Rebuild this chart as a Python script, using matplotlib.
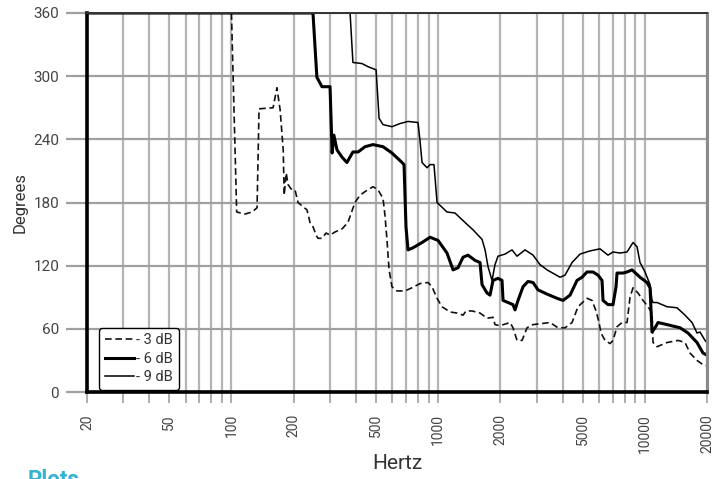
import matplotlib
matplotlib.use("Agg")
import matplotlib.pyplot as plt
from matplotlib.ticker import FixedLocator, NullFormatter

plt.rcParams['font.family'] = ['Roboto', 'DejaVu Sans']

# ---- data (Hz, degrees) ----
f_3db = [20, 100, 106, 116, 126, 133, 136, 159, 166, 172, 178, 180, 184, 188, 194, 203, 210, 222, 232,
         240, 248, 257, 262, 274, 287, 300, 317, 343, 366, 396, 419, 448, 484, 512, 541, 553, 566, 579,
         598, 632, 692, 747, 817, 894, 934, 988, 1044, 1142, 1234, 1320, 1365, 1459, 1595, 1725, 1843,
         1885, 1993, 2228, 2303, 2409, 2547, 2693, 2879, 3479, 3804, 4112, 4446, 4753, 5254, 5555, 5808,
         6005, 6140, 6421, 6789, 7019, 7340, 7760, 8206, 8484, 8772, 9275, 9806, 10368, 10840, 10963,
         11466, 12817, 14489, 15655, 16554, 17894, 19129, 20000]
d_3db = [360, 360, 171, 169, 171, 175, 269, 270, 289, 268, 230, 187, 208, 197, 193, 192, 180, 176, 173,
         161, 157, 149, 146, 146, 151, 149, 152, 155, 161, 180, 187, 191, 195, 192, 184, 168, 144, 116,
         100, 96, 96, 99, 103, 104, 100, 89, 81, 76, 75, 73, 77, 77, 75, 70, 71,
         64, 63, 66, 61, 49, 49, 61, 64, 66, 61, 61, 66, 81, 89, 87, 77,
         66, 56, 49, 46, 49, 62, 66, 66, 90, 99, 94, 87, 81, 75, 47,
         43, 47, 49, 47, 37, 30, 26, 25]

f_6db = [20, 248, 259, 274, 300, 307, 313, 324, 343, 362, 387, 410, 443, 484, 541, 598, 669, 684, 699,
         715, 756, 836, 914, 999, 1104, 1181, 1248, 1320, 1395, 1509, 1595, 1631, 1725, 1783, 1843, 1949,
         2038, 2061, 2179, 2303, 2356, 2436, 2576, 2723, 2879, 3043, 3365, 3762, 4022, 4348, 4699, 4969,
         5254, 5618, 5939, 6210, 6280, 6640, 7019, 7260, 7340, 7848, 8206, 8676, 9485, 10253, 10603,
         10840, 11209, 11590, 12817, 14815, 16190, 17894, 19129, 20000]
d_6db = [360, 360, 299, 290, 290, 227, 244, 230, 223, 218, 228, 228, 233, 235, 233, 227, 218, 216, 157,
         135, 137, 142, 147, 144, 132, 116, 118, 128, 130, 125, 123, 102, 94, 92, 106, 108,
         106, 87, 85, 83, 78, 87, 100, 105, 104, 97, 93, 89, 87, 92, 106, 109,
         114, 114, 111, 106, 87, 83, 83, 100, 113, 113, 114, 116, 109, 104, 99,
         57, 61, 66, 64, 61, 56, 47, 37, 35]

f_9db = [20, 375, 387, 428, 458, 501, 518, 541, 598, 654, 715, 799, 817, 836, 884, 914, 955, 988, 1104,
         1207, 1350, 1476, 1631, 1687, 1744, 1823, 1885, 1949, 2108, 2278, 2409, 2633, 2879, 3112, 3365,
         3890, 4112, 4446, 4861, 5433, 6072, 6640, 7019, 7590, 8206, 8772, 9174, 9485, 10027, 10603,
         10840, 10963, 11466, 12817, 14326, 15655, 16929, 17894, 18504, 19564, 20000]
d_9db = [360, 360, 313, 312, 309, 306, 260, 254, 252, 255, 257, 256, 239, 218, 213, 216, 216, 180, 171,
         170, 161, 154, 145, 135, 119, 106, 121, 129, 131, 135, 129, 135, 130, 121, 116,
         109, 111, 123, 131, 134, 136, 130, 133, 132, 133, 142, 138, 123, 114, 102,
         87, 85, 85, 81, 80, 73, 66, 56, 57, 49, 47]

series_labels = ['- 3 dB', '- 6 dB', '- 9 dB']
major_ticks = [20, 50, 100, 200, 500, 1000, 2000, 5000, 10000, 20000]
grid_freqs = [20, 30, 40, 50, 60, 70, 80, 90, 100, 200, 300, 400, 500, 600, 700, 800, 900, 1000,
              2000, 3000, 4000, 5000, 6000, 7000, 8000, 9000, 10000, 20000]
y_ticks = [0, 60, 120, 180, 240, 300, 360]

# ---- figure ----
fig = plt.figure(figsize=(7.14, 4.79), dpi=100)
ax = fig.add_axes([87/714, 1-392/479, 620/714, 379/479])

ax.set_xscale('log')
ax.set_xlim(20, 20000)
ax.set_ylim(0, 360)

grid_col = '#b4b4b4'
for g in grid_freqs:
    ax.axvline(g, color=grid_col, lw=1.6, zorder=1)
for y in y_ticks:
    ax.axhline(y, color='#a0a0a0', lw=1.6, zorder=1)

ax.plot(f_3db, d_3db, color='#111111', lw=1.2, ls=(0, (4, 2.2)), label=series_labels[0], zorder=3)
ax.plot(f_6db, d_6db, color='#000000', lw=2.2, label=series_labels[1], zorder=4)
ax.plot(f_9db, d_9db, color='#000000', lw=1.1, label=series_labels[2], zorder=3)

ax.xaxis.set_major_locator(FixedLocator(major_ticks))
ax.xaxis.set_minor_locator(FixedLocator(grid_freqs))
ax.xaxis.set_minor_formatter(NullFormatter())
ax.set_xticklabels([str(t) for t in major_ticks], rotation=90)
ax.set_yticks(y_ticks)

ax.tick_params(axis='x', which='both', length=8, width=1.2, color='#a0a0a0', labelcolor='#444444',
               labelsize=10, pad=8)
ax.tick_params(axis='y', length=15, width=1.6, color='#a0a0a0', labelcolor='#444444', labelsize=11, pad=5)

for s in ['left', 'bottom']:
    ax.spines[s].set_color('#000000')
    ax.spines[s].set_linewidth(2.6)
ax.spines['top'].set_color('#333333')
ax.spines['top'].set_linewidth(1.4)
ax.spines['right'].set_color('#8a8a8a')
ax.spines['right'].set_linewidth(2.2)
for s in ax.spines.values():
    s.set_zorder(5)

ax.set_ylabel('Degrees', fontsize=12, color='#333333')
ax.yaxis.set_label_coords((28 - 87) / 620, 0.5)
ax.set_xlabel('Hertz', fontsize=15, color='#333333')
ax.xaxis.set_label_coords(0.5, (392 - 454) / 379)

leg = ax.legend(loc='lower left', bbox_to_anchor=(12/620, 2/379), borderaxespad=0,
                fontsize=10.5, handlelength=2.0, handletextpad=0.15, labelspacing=0.3,
                borderpad=0.4, fancybox=True, framealpha=1, edgecolor='#000000')
leg.get_frame().set_linewidth(1.0)
leg.set_zorder(6)
for t in leg.get_texts():
    t.set_color('#333333')

fig.text(28/714, 1-469/479, 'Plots', color='#35b3d3', fontsize=16, fontweight='bold',
         va='top', ha='left')

fig.savefig('out.png', dpi=100)
